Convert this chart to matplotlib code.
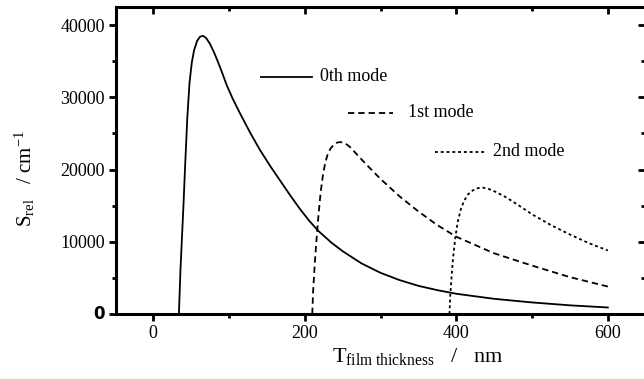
import matplotlib
matplotlib.use("Agg")
import matplotlib.pyplot as plt
from matplotlib.ticker import MultipleLocator, FuncFormatter

# values
thickness_0 = [34, 35, 36, 38, 40, 42, 45, 48, 51, 54, 58, 62, 66, 70, 75, 80,
               84, 90, 97, 105, 115, 128, 141, 155, 168, 181, 194, 206, 218, 235,
               250, 275, 300, 325, 350, 375, 400, 450, 500, 550, 600]
srel_0 = [0, 3000, 6000, 10500, 15000, 20000, 27000, 32000, 34800, 36500, 37800,
          38400, 38500, 38200, 37400, 36300, 35300, 33700, 31700, 29800, 27700,
          25100, 22700, 20400, 18400, 16400, 14500, 12900, 11500, 9900, 8700,
          7000, 5700, 4700, 3900, 3300, 2800, 2100, 1600, 1200, 900]

thickness_1 = [210, 211, 213, 215, 218, 221, 224, 227, 230, 234, 238, 242, 246,
               250, 255, 260, 267, 275, 285, 300, 325, 350, 375, 400, 450, 500,
               550, 600]
srel_1 = [0, 3000, 6500, 9500, 13500, 16800, 19200, 20900, 22000, 22900, 23400,
          23700, 23800, 23750, 23500, 23100, 22300, 21400, 20300, 18700, 16300,
          14200, 12300, 10700, 8400, 6700, 5100, 3800]

thickness_2 = [391, 392, 394, 396, 399, 402, 406, 410, 415, 420, 427, 435, 443,
               452, 465, 480, 500, 525, 550, 575, 600]
srel_2 = [0, 2500, 5500, 8000, 10800, 12800, 14500, 15600, 16500, 17000, 17400,
          17500, 17300, 16900, 16200, 15200, 13800, 12300, 11000, 9800, 8800]

mode_labels = ["0th mode", "1st mode", "2nd mode"]

plt.rcParams["font.family"] = ["Liberation Serif", "DejaVu Serif"]
plt.rcParams["mathtext.fontset"] = "custom"
plt.rcParams["mathtext.rm"] = "Liberation Serif"
plt.rcParams["mathtext.it"] = "Liberation Serif:italic"

W, H = 644, 379
fig = plt.figure(figsize=(W / 100, H / 100), dpi=100)
ax = fig.add_axes([116 / W, (H - 314) / H, (645 - 116) / W, (314 - 7) / H])

LW = 1.3
styles = [dict(linestyle="-"),
          dict(linestyle=(0, (3.5, 2.2))),
          dict(linestyle=(0, (1.6, 1.6)))]

for xs, ys, st in zip([thickness_0, thickness_1, thickness_2],
                      [srel_0, srel_1, srel_2], styles):
    ax.plot(xs, ys, color="black", lw=LW, solid_joinstyle="round", **st)

# staggered legend
legend_pos = [(0.275, 0.371, 0.386, 0.772),
              (0.438, 0.524, 0.552, 0.655),
              (0.603, 0.698, 0.713, 0.528)]
for (x0, x1, xt, yy), st, lab in zip(legend_pos, styles, mode_labels):
    ax.plot([x0, x1], [yy, yy], color="black", lw=LW, transform=ax.transAxes, **st)
    ax.text(xt, yy, lab, transform=ax.transAxes, fontsize=13, va="center", ha="left")

ax.set_xlim(-49, 649)
ax.set_ylim(0, 42500)

ax.xaxis.set_major_locator(MultipleLocator(200))
ax.xaxis.set_minor_locator(MultipleLocator(100))
ax.yaxis.set_major_locator(MultipleLocator(10000))
ax.yaxis.set_minor_locator(MultipleLocator(5000))
# the zero of the y axis is drawn separately (bold sans in the reference)
ax.yaxis.set_major_formatter(FuncFormatter(lambda v, p: "" if v == 0 else f"{v:.0f}"))
ax.text(-0.021, 0, "0", transform=ax.get_yaxis_transform(), ha="right", va="center",
        fontsize=12, fontweight="bold", family="DejaVu Sans")

for sp in ax.spines.values():
    sp.set_linewidth(2.2)
ax.spines["right"].set_visible(False)

ax.tick_params(axis="both", which="major", labelsize=13, width=2.0, length=5)
ax.tick_params(axis="both", which="minor", width=2.0, length=3)
ax.tick_params(axis="x", which="both", direction="out", top=False, pad=3)
ax.tick_params(axis="y", which="both", direction="out", right=False, pad=3)

# inward ticks on top and right, no labels
axt = ax.secondary_xaxis("top")
axt.xaxis.set_major_locator(MultipleLocator(200))
axt.xaxis.set_minor_locator(MultipleLocator(100))
axt.tick_params(which="major", direction="in", length=5, width=2.0, labeltop=False)
axt.tick_params(which="minor", direction="in", length=3, width=2.0)
axt.spines["top"].set_visible(False)

axr = ax.secondary_yaxis("right")
axr.yaxis.set_major_locator(MultipleLocator(10000))
axr.yaxis.set_minor_locator(MultipleLocator(5000))
axr.tick_params(which="major", direction="in", length=5, width=2.0, labelright=False)
axr.tick_params(which="minor", direction="in", length=3, width=2.0)
axr.spines["right"].set_visible(False)

ax.set_xlabel(r"$\mathrm{T}_{\mathrm{film\ thickness}}$   /   nm", fontsize=16)
ax.xaxis.set_label_coords(0.57, -0.105)
ax.set_ylabel(r"$\mathrm{S}_{\mathrm{rel}}$   / cm$^{\mathrm{-1}}$", fontsize=15)
ax.yaxis.set_label_coords(-0.15, 0.44)

fig.savefig("out.png", dpi=100)
